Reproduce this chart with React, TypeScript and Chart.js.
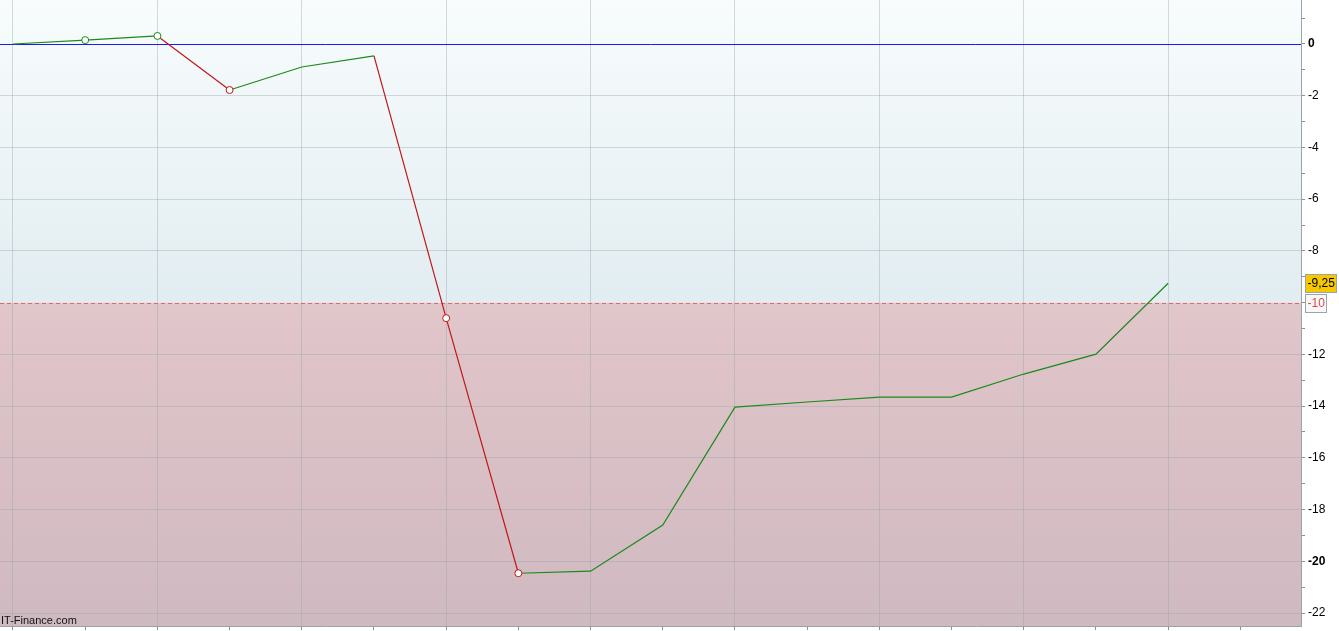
import React, { useEffect, useRef } from "react";
import { Chart, registerables } from "chart.js";

Chart.register(...registerables);

// ---- data ----
const pointIndex = [0, 1, 2, 3, 4, 5, 6, 7, 8, 9, 10, 11, 12, 13, 14, 15, 16];
const values = [0, 0.15, 0.31, -1.78, -0.89, -0.46, -10.6, -20.46, -20.38, -18.6, -14.04, -13.84, -13.65, -13.65, -12.76, -11.99, -9.25];
const buySignals = [1, 2];
const sellSignals = [3, 6, 7];
const yTickValues = [-22, -21, -20, -19, -18, -17, -16, -15, -14, -13, -12, -11, -10, -9, -8, -7, -6, -5, -4, -3, -2, -1, 0, 1];
const xTickValues = [0, 1, 2, 3, 4, 5, 6, 7, 8, 9, 10, 11, 12, 13, 14, 15, 16, 17];
const thresholdValue = -10;
const thresholdLabel = "-10";
const lastValueLabel = "-9,25";
const watermark = "IT-Finance.com";

const GREEN = "#1a8a1a";
const RED = "#c01818";
const FONT = "'Liberation Sans', Arial, sans-serif";

const bgPlugin = {
  id: "bgPlugin",
  beforeDraw(chart: any) {
    const { ctx, chartArea } = chart;
    const y = chart.scales.y;
    const yT = y.getPixelForValue(thresholdValue);
    ctx.save();
    const g1 = ctx.createLinearGradient(0, chartArea.top, 0, yT);
    g1.addColorStop(0, "#f8fcfd");
    g1.addColorStop(1, "#e2edf1");
    ctx.fillStyle = g1;
    ctx.fillRect(chartArea.left, chartArea.top, chartArea.right - chartArea.left, yT - chartArea.top);
    const g2 = ctx.createLinearGradient(0, yT, 0, chartArea.bottom);
    g2.addColorStop(0, "#e1c6ca");
    g2.addColorStop(1, "#cfb9c0");
    ctx.fillStyle = g2;
    ctx.fillRect(chartArea.left, yT, chartArea.right - chartArea.left, chartArea.bottom - yT);
    ctx.restore();
  },
  beforeDatasetsDraw(chart: any) {
    const { ctx, chartArea } = chart;
    const y = chart.scales.y;
    const yT = Math.round(y.getPixelForValue(thresholdValue)) + 0.5;
    const y0 = Math.round(y.getPixelForValue(0)) + 0.5;
    ctx.save();
    ctx.lineWidth = 1;
    ctx.strokeStyle = "#d86a6a";
    ctx.setLineDash([4, 3]);
    ctx.beginPath();
    ctx.moveTo(chartArea.left, yT);
    ctx.lineTo(chartArea.right, yT);
    ctx.stroke();
    ctx.setLineDash([]);
    ctx.strokeStyle = "#1a1aff";
    ctx.beginPath();
    ctx.moveTo(chartArea.left, y0);
    ctx.lineTo(chartArea.right, y0);
    ctx.stroke();
    ctx.restore();
  },
  afterDraw(chart: any) {
    const { ctx, chartArea } = chart;
    const y = chart.scales.y;
    ctx.save();
    ctx.font = `12px ${FONT}`;
    ctx.textBaseline = "middle";
    const drawBox = (val: number, text: string, fill: string, color: string, w: number) => {
      const cy = Math.round(y.getPixelForValue(val));
      const x0 = chartArea.right + 4.5;
      const h = 18;
      ctx.fillStyle = fill;
      ctx.fillRect(x0, cy - h / 2 + 0.5, w, h);
      ctx.strokeStyle = "#9aa4ac";
      ctx.lineWidth = 1;
      ctx.strokeRect(x0, cy - h / 2 + 0.5, w, h);
      ctx.fillStyle = color;
      ctx.textAlign = "left";
      ctx.fillText(text, x0 + 2, cy + 1);
    };
    drawBox(thresholdValue, thresholdLabel, "#f7f7f7", "#e04a4a", 21);
    drawBox(values[values.length - 1], lastValueLabel, "#f6c800", "#000", 31);
    ctx.font = `11px ${FONT}`;
    ctx.fillStyle = "#111";
    ctx.textAlign = "left";
    ctx.textBaseline = "alphabetic";
    ctx.fillText(watermark, chartArea.left + 1, chartArea.bottom - 2);
    ctx.restore();
  },
};

export default function App() {
  const ref = useRef<HTMLCanvasElement>(null);
  useEffect(() => {
    document.body.style.margin = "0";
    const pointColor = (i: number) =>
      buySignals.includes(i) ? GREEN : sellSignals.includes(i) ? RED : GREEN;
    const chart = new Chart(ref.current as HTMLCanvasElement, {
      type: "line",
      data: {
        datasets: [
          {
            data: pointIndex.map((i) => ({ x: i, y: values[i] })),
            borderWidth: 1.2,
            borderColor: GREEN,
            segment: {
              borderColor: (c: any) => (c.p1.parsed.y < c.p0.parsed.y ? RED : GREEN),
            },
            pointRadius: pointIndex.map((i) => (buySignals.includes(i) || sellSignals.includes(i) ? 3.5 : 0)),
            pointBorderColor: pointIndex.map(pointColor),
            pointBackgroundColor: "#ffffff",
            pointBorderWidth: 1,
            tension: 0,
          } as any,
        ],
      },
      options: {
        animation: false,
        responsive: true,
        maintainAspectRatio: false,
        devicePixelRatio: 1,
        layout: { padding: 0 },
        plugins: { legend: { display: false }, tooltip: { enabled: false } },
        scales: {
          x: {
            type: "linear",
            position: "bottom",
            min: -0.18,
            max: 17.84,
            afterBuildTicks: (s: any) => {
              s.ticks = xTickValues.map((v) => ({ value: v }));
            },
            afterFit: (s: any) => {
              s.height = 5;
              s.paddingLeft = 0;
              s.paddingRight = 0;
            },
            ticks: { display: false },
            grid: {
              color: (c: any) => (c.tick && c.tick.value % 2 === 0 ? "rgba(150,160,170,0.38)" : "rgba(0,0,0,0)"),
              tickColor: "#8a9098",
              tickLength: 4,
            },
            border: { color: "#9aa2aa" },
          },
          y: {
            type: "linear",
            position: "right",
            min: -22.5,
            max: 1.7,
            afterBuildTicks: (s: any) => {
              s.ticks = yTickValues.map((v) => ({ value: v }));
            },
            afterFit: (s: any) => {
              s.width = 38;
              s.paddingTop = 0;
              s.paddingBottom = 0;
            },
            ticks: {
              autoSkip: false,
              padding: 3,
              color: "#000",
              font: (c: any) => ({
                family: FONT,
                size: 12,
                weight: c.tick && (c.tick.value === 0 || c.tick.value === -20) ? "bold" : "normal",
              }),
              callback: (v: any) => {
                const n = Number(v);
                if (n % 2 !== 0 || n === thresholdValue) return "";
                return String(n);
              },
            },
            grid: {
              color: (c: any) =>
                c.tick && c.tick.value % 2 === 0 && c.tick.value !== 0 && c.tick.value !== thresholdValue
                  ? "rgba(150,160,170,0.38)"
                  : "rgba(0,0,0,0)",
              tickColor: "#8a9098",
              tickLength: 4,
            },
            border: { color: "#9aa2aa" },
          },
        },
      } as any,
      plugins: [bgPlugin],
    });
    return () => chart.destroy();
  }, []);
  return (
    <div style={{ width: 1339, height: 631, position: "relative" }}>
      <canvas ref={ref} />
    </div>
  );
}
